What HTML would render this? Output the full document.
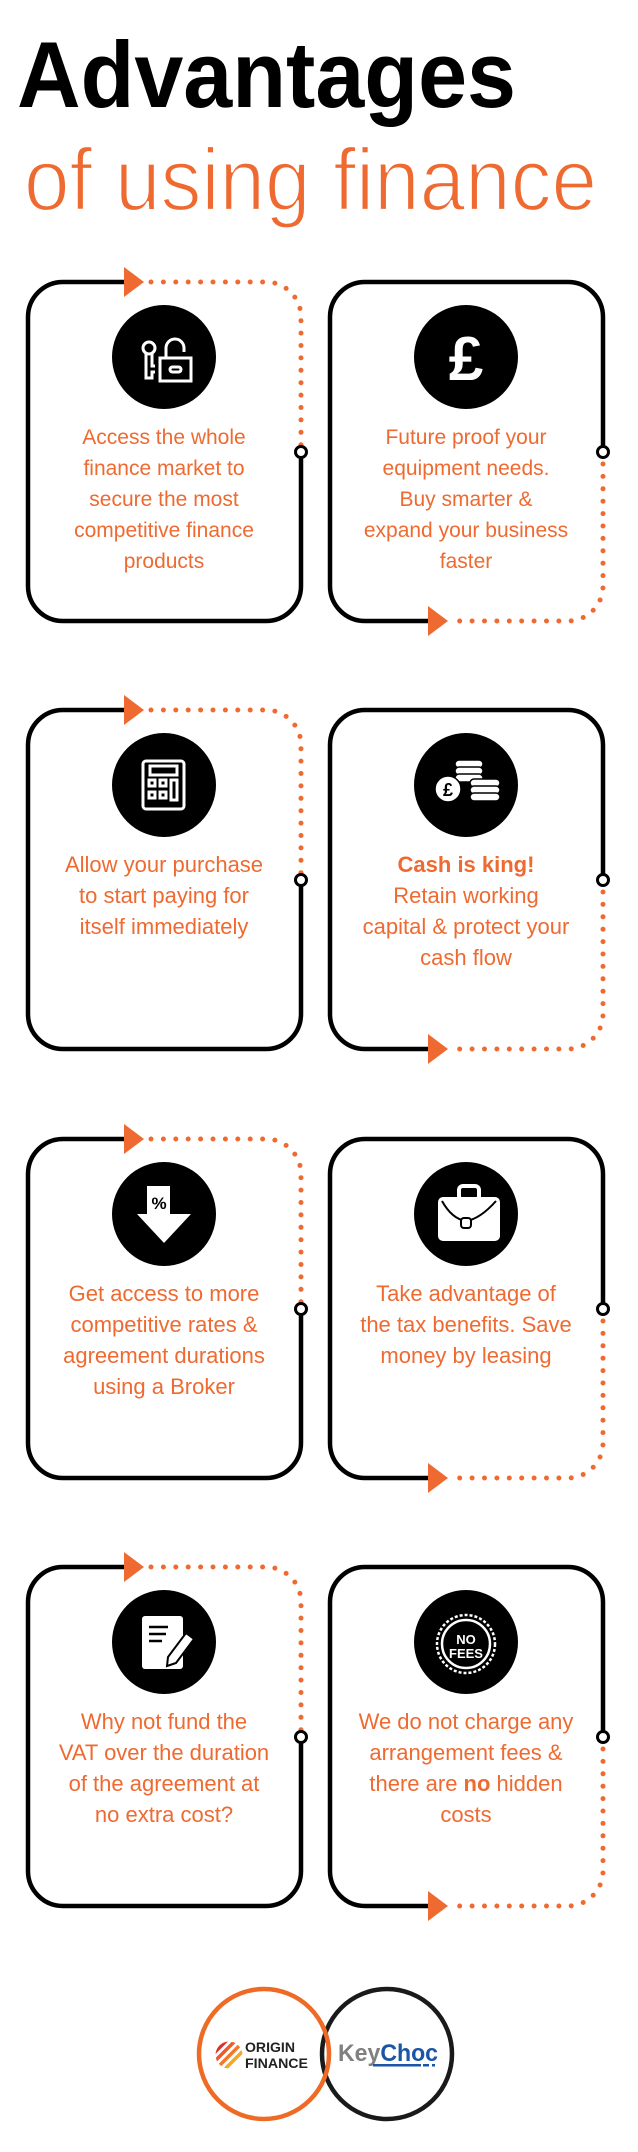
<!DOCTYPE html>
<html><head><meta charset="utf-8"><style>
html,body{margin:0;padding:0;background:#fff;}
svg{display:block;}
text{font-family:"Liberation Sans",sans-serif;}
</style></head><body>
<svg width="638" height="2152" viewBox="0 0 638 2152" xmlns="http://www.w3.org/2000/svg">
<defs>
<g id="boxes">
  <path d="M124 0 H63 A35 35 0 0 0 28 35 V304 A35 35 0 0 0 63 339 H266 A35 35 0 0 0 301 304 V175" fill="none" stroke="#000" stroke-width="4.5"/>
  <path d="M151 0 H266 A35 35 0 0 1 301 35 V163" fill="none" stroke="#ee6a31" stroke-width="5" stroke-linecap="round" stroke-dasharray="0 12.4"/>
  <polygon points="124,-15 124,15 144,0" fill="#ee6a31"/>
  <circle cx="301" cy="170" r="5.5" fill="#fff" stroke="#000" stroke-width="3"/>
  <path d="M428 339 H365 A35 35 0 0 1 330 304 V35 A35 35 0 0 1 365 0 H568 A35 35 0 0 1 603 35 V165" fill="none" stroke="#000" stroke-width="4.5"/>
  <path d="M603 182 V304 A35 35 0 0 1 568 339 H453" fill="none" stroke="#ee6a31" stroke-width="5" stroke-linecap="round" stroke-dasharray="0 12.4"/>
  <polygon points="428,324 428,354 448,339" fill="#ee6a31"/>
  <circle cx="603" cy="170" r="5.5" fill="#fff" stroke="#000" stroke-width="3"/>
  <circle cx="164" cy="75" r="52" fill="#000"/>
  <circle cx="466" cy="75" r="52" fill="#000"/>
</g>
</defs>

<text x="17" y="107" font-size="94" font-weight="bold" fill="#000" textLength="499" lengthAdjust="spacingAndGlyphs">Advantages</text>
<text x="24" y="210" font-size="88" fill="#ee6a31" stroke="#fff" stroke-width="2.2" textLength="573" lengthAdjust="spacingAndGlyphs">of using finance</text>

<g transform="translate(0,282)">
  <use href="#boxes"/>
  <g fill="none" stroke="#fff" stroke-width="3">
    <circle cx="149" cy="66" r="6"/>
    <path d="M146 72 V96 H152 V90 H155 M152 72 V84 H155"/>
    <rect x="160" y="76" width="31" height="23"/>
    <path d="M166 76 V66 A9 9 0 0 1 184 66 V70"/>
    <rect x="170" y="85" width="11" height="5" rx="2.5"/>
  </g>
  <text x="466" y="98" font-size="62" font-weight="bold" fill="#fff" text-anchor="middle">£</text>
  <g font-size="21" fill="#ee6a31" text-anchor="middle">
    <text x="164" y="162">Access the whole</text>
    <text x="164" y="193">finance market to</text>
    <text x="164" y="224">secure the most</text>
    <text x="164" y="255">competitive finance</text>
    <text x="164" y="286">products</text>
    <text x="466" y="162">Future proof your</text>
    <text x="466" y="193">equipment needs.</text>
    <text x="466" y="224">Buy smarter &amp;</text>
    <text x="466" y="255">expand your business</text>
    <text x="466" y="286">faster</text>
  </g>
</g>

<g transform="translate(0,710)">
  <use href="#boxes"/>
  <g fill="none" stroke="#fff" stroke-width="3">
    <rect x="143" y="51" width="41" height="48" rx="3"/>
    <rect x="150" y="56" width="27" height="9"/>
    <rect x="149" y="70" width="6" height="6"/><rect x="160" y="70" width="6" height="6"/>
    <rect x="149" y="82" width="6" height="6"/><rect x="160" y="82" width="6" height="6"/>
    <rect x="171" y="70" width="6" height="20"/>
  </g>
  <g fill="#fff" stroke="#000" stroke-width="1.5">
    <rect x="455" y="50" width="28" height="8" rx="4"/>
    <rect x="455" y="57" width="28" height="8" rx="4"/>
    <rect x="455" y="64" width="28" height="8" rx="4"/>
    <rect x="470" y="69" width="30" height="8" rx="4"/>
    <rect x="470" y="76" width="30" height="8" rx="4"/>
    <rect x="470" y="83" width="30" height="8" rx="4"/>
    <circle cx="448" cy="79" r="13"/>
  </g>
  <text x="448" y="86" font-size="18" font-weight="bold" fill="#000" text-anchor="middle">£</text>
  <g font-size="22" fill="#ee6a31" text-anchor="middle">
    <text x="164" y="162">Allow your purchase</text>
    <text x="164" y="193">to start paying for</text>
    <text x="164" y="224">itself immediately</text>
    <text x="466" y="162" font-weight="bold">Cash is king!</text>
    <text x="466" y="193">Retain working</text>
    <text x="466" y="224">capital &amp; protect your</text>
    <text x="466" y="255">cash flow</text>
  </g>
</g>

<g transform="translate(0,1139)">
  <use href="#boxes"/>
  <polygon points="147,47 170,47 170,75 191,75 164,104 137,75 147,75" fill="#fff"/>
  <text x="159" y="70" font-size="17" font-weight="bold" fill="#000" text-anchor="middle">%</text>
  <rect x="438" y="58" width="62" height="44" rx="5" fill="#fff"/>
  <rect x="459" y="47" width="20" height="14" rx="4" fill="none" stroke="#fff" stroke-width="4"/>
  <path d="M442 62 Q452 80 466 82 Q480 80 496 62" fill="none" stroke="#000" stroke-width="2"/>
  <rect x="461" y="79" width="10" height="10" rx="3" fill="#fff" stroke="#000" stroke-width="2"/>
  <g font-size="22" fill="#ee6a31" text-anchor="middle">
    <text x="164" y="162">Get access to more</text>
    <text x="164" y="193">competitive rates &amp;</text>
    <text x="164" y="224">agreement durations</text>
    <text x="164" y="255">using a Broker</text>
    <text x="466" y="162">Take advantage of</text>
    <text x="466" y="193">the tax benefits. Save</text>
    <text x="466" y="224">money by leasing</text>
  </g>
</g>

<g transform="translate(0,1567)">
  <use href="#boxes"/>
  <rect x="142" y="49" width="41" height="53" rx="3" fill="#fff"/>
  <g stroke="#000" stroke-width="2.5"><line x1="149" y1="60" x2="168" y2="60"/><line x1="149" y1="67" x2="166" y2="67"/><line x1="149" y1="74" x2="162" y2="74"/></g>
  <path d="M186 66 L194 72 L176 96 L167 99 L168 90 Z" fill="#fff" stroke="#000" stroke-width="2"/>
  <circle cx="466" cy="77" r="29" fill="none" stroke="#fff" stroke-width="2.5" stroke-dasharray="3 2"/>
  <circle cx="466" cy="77" r="24" fill="none" stroke="#fff" stroke-width="2.5"/>
  <text x="466" y="77" font-size="13" font-weight="bold" fill="#fff" text-anchor="middle">NO</text>
  <text x="466" y="91" font-size="13" font-weight="bold" fill="#fff" text-anchor="middle">FEES</text>
  <g font-size="22" fill="#ee6a31" text-anchor="middle">
    <text x="164" y="162">Why not fund the</text>
    <text x="164" y="193">VAT over the duration</text>
    <text x="164" y="224">of the agreement at</text>
    <text x="164" y="255">no extra cost?</text>
    <text x="466" y="162">We do not charge any</text>
    <text x="466" y="193">arrangement fees &amp;</text>
    <text x="466" y="224">there are <tspan font-weight="bold">no</tspan> hidden</text>
    <text x="466" y="255">costs</text>
  </g>
</g>

<circle cx="387" cy="2054" r="65" fill="none" stroke="#1a1a1a" stroke-width="4.5"/>
<circle cx="264" cy="2054" r="65" fill="none" stroke="#ee6a25" stroke-width="4.5"/>
<defs><clipPath id="oc"><circle cx="229" cy="2055" r="13.5"/></clipPath></defs>
<g clip-path="url(#oc)" stroke-width="3.5">
  <line x1="212" y1="2055" x2="229" y2="2038" stroke="#e02b2b"/>
  <line x1="214" y1="2062" x2="236" y2="2040" stroke="#ee5a2a"/>
  <line x1="219" y1="2066" x2="241" y2="2044" stroke="#f07a2a"/>
  <line x1="224" y1="2070" x2="246" y2="2048" stroke="#f5a623"/>
</g>
<text x="245" y="2052" font-size="14" font-weight="bold" fill="#222" textLength="50" lengthAdjust="spacingAndGlyphs">ORIGIN</text>
<text x="245" y="2068" font-size="14" font-weight="bold" fill="#222" textLength="63" lengthAdjust="spacingAndGlyphs">FINANCE</text>
<text x="338" y="2061" font-size="24" font-weight="bold" fill="#808080" textLength="100" lengthAdjust="spacingAndGlyphs">Key<tspan fill="#1a55a6">Choc</tspan></text>
<rect x="373" y="2064" width="48" height="2.5" fill="#1a55a6"/>
<rect x="423" y="2064" width="6" height="2.5" fill="#1a55a6"/>
<rect x="432" y="2064" width="3" height="2.5" fill="#1a55a6"/>
</svg>
</body></html>
